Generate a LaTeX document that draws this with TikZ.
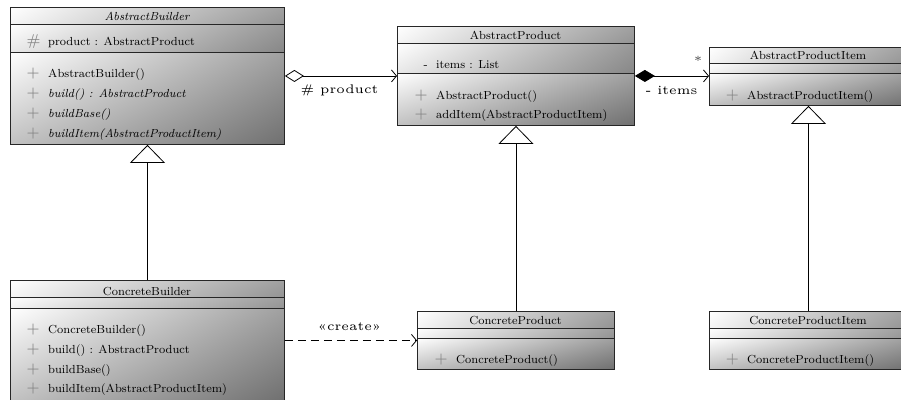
\documentclass[tikz,border=0pt]{standalone}
\usetikzlibrary{arrows.meta,shadings}
\newcommand\umltxt[1]{\scalebox{1.46}{\fontsize{8}{9}\selectfont #1}}
\newcommand\lbltxt[1]{\scalebox{2.5}{\fontsize{5}{6}\selectfont #1}}
\newcommand\vis[1]{\makebox[13.7pt][l]{\hspace{-1pt}\raisebox{-0.4pt}{\textcolor{black!50}{\scalebox{1.35}{#1}}}}}
\tikzset{
  member/.style={anchor=base west, inner sep=0pt},
  ctitle/.style={anchor=base, inner sep=0pt},
  classbox/.style={draw=black!85, line width=0.9pt, anchor=north west, inner sep=0pt},
  sepline/.style={draw=black!85, line width=0.9pt},
  tsh/.style={upper left=white, upper right=black!37, lower left=black!4, lower right=black!42},
  ash/.style={upper left=white, upper right=black!40, lower left=black!9, lower right=black!47},
  esh/.style={upper left=white, upper right=black!38, lower left=black!5, lower right=black!42},
  msh/.style={upper left=white, upper right=black!37, lower left=black!24, lower right=black!56},
  conn/.style={draw=black, line width=0.8pt},
  gen/.style={conn, -{Triangle[fill=white, length=18pt, width=35pt]}},
  agg/.style={conn, {Diamond[fill=white, length=19pt, width=12pt]}-{Straight Barb[length=5pt, width=12pt]}},
  comp/.style={conn, {Diamond[fill=black, length=20pt, width=12pt]}-{Straight Barb[length=5pt, width=12pt]}},
  dep/.style={conn, dash pattern=on 8pt off 5pt, -{Straight Barb[length=5pt, width=12pt]}},
  lbl/.style={inner sep=0pt}
}
\begin{document}
\begin{tikzpicture}[x=1pt, y=-1pt]
\useasboundingbox (0,0) rectangle (901,399);
\clip (0,0) rectangle (901,399);

% ---------- AbstractBuilder ----------
\shade[tsh] (10,7) rectangle (284,24);
\shade[ash] (10,24) rectangle (284,52);
\shade[msh] (10,52) rectangle (284,144);
\node[classbox, minimum width=274pt, minimum height=137pt] (AB) at (10,7) {};
\draw[sepline] (10,24) -- (284,24);
\draw[sepline] (10,52) -- (284,52);
\node[ctitle] (AB-t) at (147,20) {\umltxt{\itshape AbstractBuilder}};
\node[member] (AB-a1) at (28,45) {\umltxt{\vis{\#}product : AbstractProduct}};
\node[member] (AB-m1) at (28,77) {\umltxt{\vis{+}AbstractBuilder()}};
\node[member] (AB-m2) at (28,97) {\umltxt{\vis{+}\itshape build() : AbstractProduct}};
\node[member] (AB-m3) at (28,117) {\umltxt{\vis{+}\itshape buildBase()}};
\node[member] (AB-m4) at (28,137) {\umltxt{\vis{+}\itshape buildItem(AbstractProductItem)}};

% ---------- AbstractProduct ----------
\shade[tsh] (397,26) rectangle (634,43);
\shade[ash] (397,43) rectangle (634,73);
\shade[msh] (397,73) rectangle (634,125);
\node[classbox, minimum width=237pt, minimum height=99pt] (AP) at (397,26) {};
\draw[sepline] (397,43) -- (634,43);
\draw[sepline] (397,73) -- (634,73);
\node[ctitle] (AP-t) at (515.5,39) {\umltxt{AbstractProduct}};
\node[member] (AP-a1) at (416,68) {\umltxt{\makebox[13.7pt][l]{\hspace{5pt}-}items : List}};
\node[member] (AP-m1) at (416,99) {\umltxt{\vis{+}AbstractProduct()}};
\node[member] (AP-m2) at (416,118) {\umltxt{\vis{+}addItem(AbstractProductItem)}};

% ---------- AbstractProductItem ----------
\shade[tsh] (709,47) rectangle (907,63);
\shade[esh] (709,63) rectangle (907,73);
\shade[msh] (709,73) rectangle (907,105);
\node[classbox, minimum width=198pt, minimum height=58pt] (API) at (709,47) {};
\draw[sepline] (709,63) -- (907,63);
\draw[sepline] (709,73) -- (907,73);
\node[ctitle] (API-t) at (808,59) {\umltxt{AbstractProductItem}};
\node[member] (API-m1) at (727,99) {\umltxt{\vis{+}AbstractProductItem()}};

% ---------- ConcreteBuilder ----------
\shade[tsh] (10,280) rectangle (284,297);
\shade[esh] (10,297) rectangle (284,308);
\shade[msh] (10,308) rectangle (284,400);
\node[classbox, minimum width=274pt, minimum height=120pt] (CB) at (10,280) {};
\draw[sepline] (10,297) -- (284,297);
\draw[sepline] (10,308) -- (284,308);
\node[ctitle] (CB-t) at (147,295) {\umltxt{ConcreteBuilder}};
\node[member] (CB-m1) at (28,333) {\umltxt{\vis{+}ConcreteBuilder()}};
\node[member] (CB-m2) at (28,353) {\umltxt{\vis{+}build() : AbstractProduct}};
\node[member] (CB-m3) at (28,373) {\umltxt{\vis{+}buildBase()}};
\node[member] (CB-m4) at (28,392) {\umltxt{\vis{+}buildItem(AbstractProductItem)}};

% ---------- ConcreteProduct ----------
\shade[tsh] (417,311) rectangle (614,328);
\shade[esh] (417,328) rectangle (614,338);
\shade[msh] (417,338) rectangle (614,369);
\node[classbox, minimum width=197pt, minimum height=58pt] (CP) at (417,311) {};
\draw[sepline] (417,328) -- (614,328);
\draw[sepline] (417,338) -- (614,338);
\node[ctitle] (CP-t) at (515.5,324) {\umltxt{ConcreteProduct}};
\node[member] (CP-m1) at (436,363) {\umltxt{\vis{+}ConcreteProduct()}};

% ---------- ConcreteProductItem ----------
\shade[tsh] (709,311) rectangle (907,328);
\shade[esh] (709,328) rectangle (907,338);
\shade[msh] (709,338) rectangle (907,369);
\node[classbox, minimum width=198pt, minimum height=58pt] (CPI) at (709,311) {};
\draw[sepline] (709,328) -- (907,328);
\draw[sepline] (709,338) -- (907,338);
\node[ctitle] (CPI-t) at (808,324) {\umltxt{ConcreteProductItem}};
\node[member] (CPI-m1) at (727,363) {\umltxt{\vis{+}ConcreteProductItem()}};

% ---------- connectors ----------
\draw[gen] (CB.north) -- (AB.south);
\draw[gen] (CP.north) -- (AP.south);
\draw[gen] (CPI.north) -- (API.south);
\draw[agg] (AB.east) -- (AP.west);
\draw[comp] (AP.east) -- (AP.east -| API.west);
\draw[dep] (CB.east) -- (CP.west);

% ---------- labels ----------
\node[lbl] (L-prod) at (339.5,90) {\lbltxt{\# product}};
\node[lbl] (L-items) at (671.5,90) {\lbltxt{- items}};
\node[lbl, anchor=base, text=black!70] (L-mult) at (698,65) {\lbltxt{*}};
\node[lbl] (L-create) at (349.5,327) {\lbltxt{«create»}};
\end{tikzpicture}
\end{document}
